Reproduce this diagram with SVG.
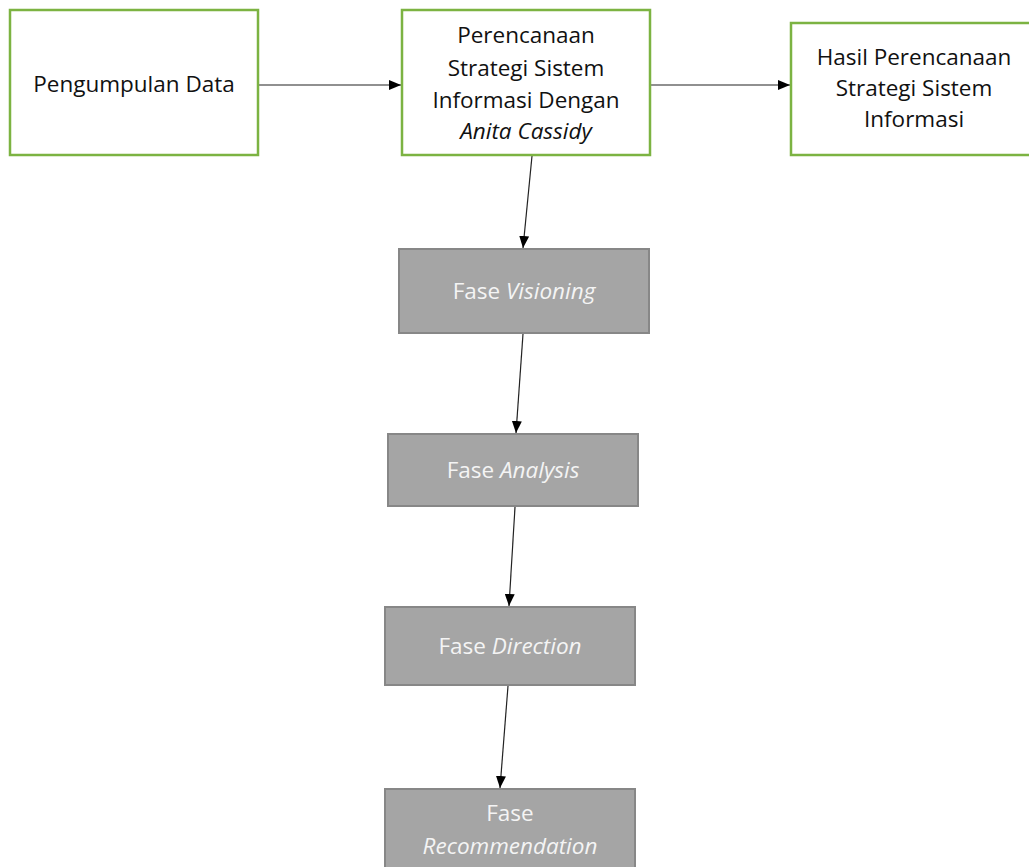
<svg xmlns="http://www.w3.org/2000/svg" width="1029" height="867" viewBox="0 0 1029 867">
<style>
.g{fill:#fff;stroke:#7cb342;stroke-width:2.5}
.p{fill:#a5a5a5;stroke:#878787;stroke-width:2}
.t{font-family:"Open Sans",Lato,sans-serif;font-size:22.5px;text-anchor:middle;fill:#111}
.w{font-family:"Open Sans",Lato,sans-serif;font-size:22.5px;text-anchor:middle;fill:#f4f4f4}
.c{stroke:#222;stroke-width:1.2;fill:none;marker-end:url(#a)}
</style>
<defs>
<marker id="a" viewBox="0 0 12 10" refX="12" refY="5" markerWidth="12" markerHeight="10" markerUnits="userSpaceOnUse" orient="auto">
<path d="M0,0L12,5L0,10z" fill="#000"/>
</marker>
</defs>
<rect width="1029" height="867" fill="#fff"/>
<g id="connectors">
<line class="c" x1="259" y1="85" x2="401" y2="85"/>
<line class="c" x1="650" y1="85" x2="790" y2="85"/>
<line class="c" x1="532" y1="156" x2="523" y2="248"/>
<line class="c" x1="523" y1="334" x2="516" y2="433"/>
<line class="c" x1="515" y1="507" x2="509" y2="606"/>
<line class="c" x1="508" y1="686" x2="500" y2="788"/>
</g>
<g id="n1">
<rect class="g" x="10" y="10" width="248" height="145"/>
<text class="t" x="134" y="92">Pengumpulan Data</text>
</g>
<g id="n2">
<rect class="g" x="402" y="10" width="248" height="145"/>
<text class="t" x="526" y="43">Perencanaan</text>
<text class="t" x="526" y="76">Strategi Sistem</text>
<text class="t" x="526" y="108">Informasi Dengan</text>
<text class="t" x="526" y="139" font-style="italic">Anita Cassidy</text>
</g>
<g id="n3">
<rect class="g" x="791" y="23" width="248" height="132"/>
<text class="t" x="914" y="65">Hasil Perencanaan</text>
<text class="t" x="914" y="96">Strategi Sistem</text>
<text class="t" x="914" y="127">Informasi</text>
</g>
<g id="n4">
<rect class="p" x="399" y="249" width="250" height="84"/>
<text class="w" x="524" y="299">Fase <tspan font-style="italic">Visioning</tspan></text>
</g>
<g id="n5">
<rect class="p" x="388" y="434" width="250" height="72"/>
<text class="w" x="513" y="478">Fase <tspan font-style="italic">Analysis</tspan></text>
</g>
<g id="n6">
<rect class="p" x="385" y="607" width="250" height="78"/>
<text class="w" x="510" y="654">Fase <tspan font-style="italic">Direction</tspan></text>
</g>
<g id="n7">
<rect class="p" x="385" y="789" width="250" height="90"/>
<text class="w" x="510" y="821">Fase</text>
<text class="w" x="510" y="854" font-style="italic">Recommendation</text>
</g>
</svg>
